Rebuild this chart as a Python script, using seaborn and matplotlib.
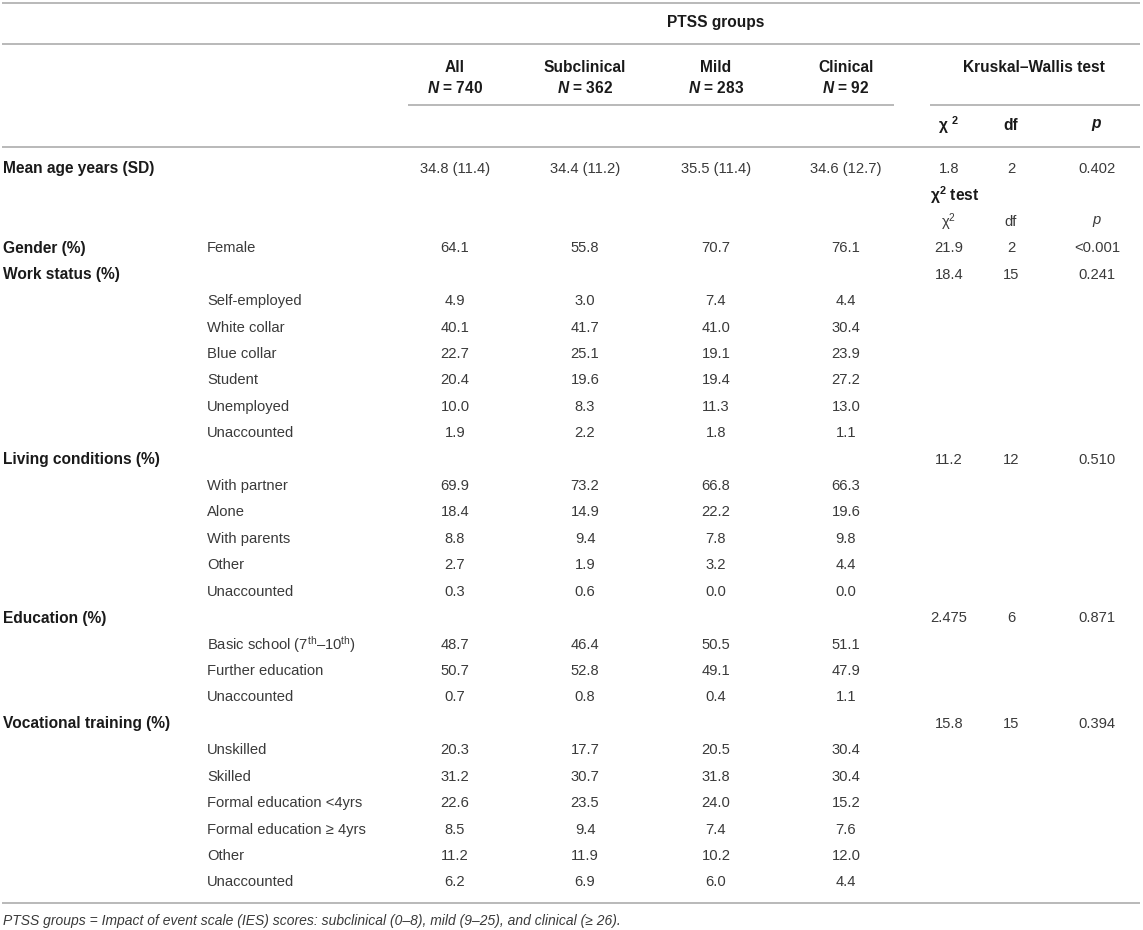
import matplotlib
matplotlib.use("Agg")
import matplotlib.pyplot as plt
import seaborn as sns

# Table content
section_labels = ["Mean age years (SD)", "", "", "Gender (%)", "Work status (%)",
                  "", "", "", "", "", "", "Living conditions (%)",
                  "", "", "", "", "", "Education (%)", "", "", "",
                  "Vocational training (%)", "", "", "", "", "", ""]
item_labels = ["", "", "", "Female", "",
               "Self-employed", "White collar", "Blue collar", "Student", "Unemployed", "Unaccounted", "",
               "With partner", "Alone", "With parents", "Other", "Unaccounted", "",
               r"Basic school (7$^{\mathrm{th}}$–10$^{\mathrm{th}}$)", "Further education", "Unaccounted", "",
               "Unskilled", "Skilled", "Formal education <4yrs", "Formal education ≥ 4yrs", "Other", "Unaccounted"]
all_vals = ["34.8 (11.4)", "", "", "64.1", "",
            "4.9", "40.1", "22.7", "20.4", "10.0", "1.9", "",
            "69.9", "18.4", "8.8", "2.7", "0.3", "",
            "48.7", "50.7", "0.7", "",
            "20.3", "31.2", "22.6", "8.5", "11.2", "6.2"]
subclinical_vals = ["34.4 (11.2)", "", "", "55.8", "",
                    "3.0", "41.7", "25.1", "19.6", "8.3", "2.2", "",
                    "73.2", "14.9", "9.4", "1.9", "0.6", "",
                    "46.4", "52.8", "0.8", "",
                    "17.7", "30.7", "23.5", "9.4", "11.9", "6.9"]
mild_vals = ["35.5 (11.4)", "", "", "70.7", "",
             "7.4", "41.0", "19.1", "19.4", "11.3", "1.8", "",
             "66.8", "22.2", "7.8", "3.2", "0.0", "",
             "50.5", "49.1", "0.4", "",
             "20.5", "31.8", "24.0", "7.4", "10.2", "6.0"]
clinical_vals = ["34.6 (12.7)", "", "", "76.1", "",
                 "4.4", "30.4", "23.9", "27.2", "13.0", "1.1", "",
                 "66.3", "19.6", "9.8", "4.4", "0.0", "",
                 "51.1", "47.9", "1.1", "",
                 "30.4", "30.4", "15.2", "7.6", "12.0", "4.4"]
chi_vals = ["1.8", "", r"χ$^{2}$", "21.9", "18.4", "", "", "", "", "", "", "11.2",
            "", "", "", "", "", "2.475", "", "", "", "15.8", "", "", "", "", "", ""]
df_vals = ["2", "", "df", "2", "15", "", "", "", "", "", "", "12",
           "", "", "", "", "", "6", "", "", "", "15", "", "", "", "", "", ""]
p_vals = ["0.402", "", r"$p$", "<0.001", "0.241", "", "", "", "", "", "", "0.510",
          "", "", "", "", "", "0.871", "", "", "", "0.394", "", "", "", "", "", ""]

group_names = ["All", "Subclinical", "Mild", "Clinical"]
group_n = ["740", "362", "283", "92"]
footnote = ("PTSS groups = Impact of event scale (IES) scores: subclinical (0–8), "
            "mild (9–25), and clinical (≥ 26).")

sns.set_theme(style="white")
plt.rcParams["font.family"] = ["Liberation Sans", "DejaVu Sans"]
plt.rcParams["mathtext.fontset"] = "custom"
plt.rcParams["mathtext.rm"] = "Liberation Sans"
plt.rcParams["mathtext.it"] = "Liberation Sans:italic"
plt.rcParams["mathtext.bf"] = "Liberation Sans:bold"
plt.rcParams["mathtext.bfit"] = "Liberation Sans:italic:bold"

W, H = 1143, 930
fig = plt.figure(figsize=(W / 100, H / 100), dpi=100)
ax = fig.add_axes([0, 0, 1, 1])
ax.set_xlim(0, W)
ax.set_ylim(H, 0)
ax.axis("off")

txt = "#3a3a3a"
bold_c = "#1a1a1a"
rule = "#b3b3b3"
fs = 10.6
fsb = 11.2

x_sec, x_item = 3, 207
x_groups = [455, 585, 716, 846]
x_chi, x_df, x_p = 949, 1011, 1097
y0, row_h = 169, 26.42

# rules
ax.hlines([3, 44, 147, 903], 2, 1140, color=rule, lw=1.3)
ax.hlines(105, 408, 894, color=rule, lw=1.3)
ax.hlines(105, 930, 1140, color=rule, lw=1.3)

# header
ax.text(716, 22, "PTSS groups", ha="center", va="center", fontsize=fsb, weight="bold", color=bold_c)
for xg, name, n in zip(x_groups, group_names, group_n):
    ax.text(xg, 67, name, ha="center", va="center", fontsize=fsb, weight="bold", color=bold_c)
    ax.text(xg, 88, r"$\mathbfit{N}$ = " + n, ha="center", va="center", fontsize=fsb,
            weight="bold", color=bold_c)
ax.text(1034, 67, "Kruskal–Wallis test", ha="center", va="center", fontsize=fsb,
        weight="bold", color=bold_c)
ax.text(x_chi, 125, r"χ $^{\mathbf{2}}$", ha="center", va="center", fontsize=fsb, weight="bold", color=bold_c)
ax.text(x_df, 125, "df", ha="center", va="center", fontsize=fsb, weight="bold", color=bold_c)
ax.text(x_p, 125, r"$\mathbfit{p}$", ha="center", va="center", fontsize=fsb, color=bold_c)

# body
for i in range(len(section_labels)):
    y = y0 + i * row_h
    if section_labels[i]:
        ax.text(x_sec, y, section_labels[i], ha="left", va="center", fontsize=fsb,
                weight="bold", color=bold_c)
    if item_labels[i]:
        ax.text(x_item, y, item_labels[i], ha="left", va="center", fontsize=fs, color=txt)
    for xg, col in zip(x_groups, [all_vals, subclinical_vals, mild_vals, clinical_vals]):
        if col[i]:
            ax.text(xg, y, col[i], ha="center", va="center", fontsize=fs, color=txt)
    for xs, col in zip([x_chi, x_df, x_p], [chi_vals, df_vals, p_vals]):
        if col[i]:
            ax.text(xs, y, col[i], ha="center", va="center", fontsize=fs, color=txt)

# chi-square test sub heading
ax.text(930, y0 + row_h, r"χ$^{\mathbf{2}}$ test", ha="left", va="center", fontsize=fsb,
        weight="bold", color=bold_c)

ax.text(x_sec, 921, footnote, ha="left", va="center", fontsize=10, style="italic", color=txt)

fig.savefig("out.png", dpi=100)
